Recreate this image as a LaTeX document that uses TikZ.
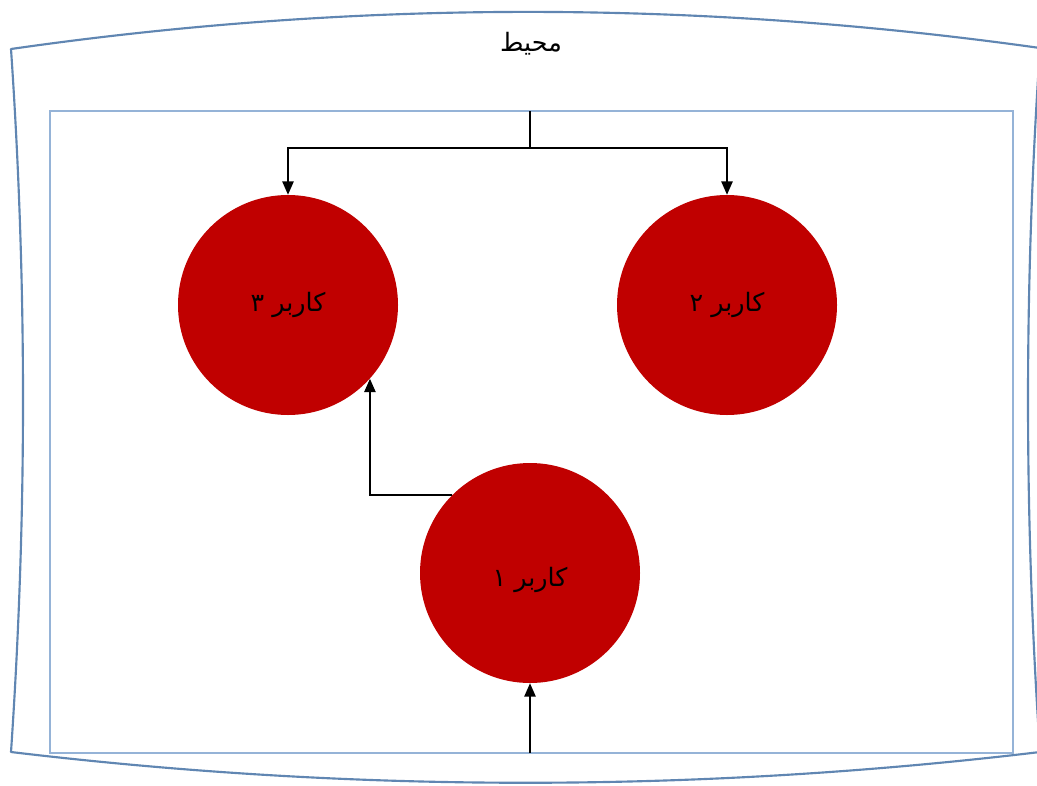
\documentclass[tikz,border=0pt]{standalone}
\usepackage{fontspec}
\newfontfamily\arabicfont[Script=Arabic]{DejaVu Sans}
\TeXXeTstate=1
\usetikzlibrary{arrows.meta}
\definecolor{framebl}{RGB}{96,134,178}
\definecolor{boxbl}{RGB}{149,179,215}
\definecolor{userred}{RGB}{192,0,0}
\tikzset{
  userdisc/.style={circle, fill=userred, draw=none, minimum size=165pt, inner sep=0pt,
    font=\arabicfont\fontsize{19}{22}\selectfont},
  flow/.style={draw=black, line width=1.1pt, -{Triangle[length=10pt,width=8.5pt]}},
  flowplain/.style={draw=black, line width=1.1pt},
  lbl/.style={font=\arabicfont\fontsize{19}{22}\selectfont, inner sep=0pt}
}
\begin{document}
\begin{tikzpicture}[x=0.75pt, y=-0.75pt]
\useasboundingbox (0,0) rectangle (1037,785);
\fill[white] (0,0) rectangle (1037,785);

% outer environment frame with curved edges
\draw[framebl, line width=1.6pt, line join=round]
  (11,49) .. controls (354,-0.3) and (697,-0.3) .. (1040,48)
  .. controls (1024,283) and (1024,517) .. (1040,752)
  .. controls (697,793) and (354,793) .. (11,752)
  .. controls (27,517) and (27,283) .. (11,49) -- cycle;
\node[lbl] (env) at (531,44) {\beginR محیط\endR};

% inner system boundary
\draw[boxbl, line width=1.6pt] (50,111) rectangle (1013,753);
\coordinate (rtop) at (530,111);
\coordinate (rbot) at (530,753);
\coordinate (split) at (530,148);

% users
\node[userdisc] (c3) at (288,305) {\beginR کاربر ۳\endR};
\node[userdisc] (c2) at (727,305) {\beginR کاربر ۲\endR};
\node[userdisc] (c1) at (530,573) {};
\node[lbl] (c1text) at (530,580) {\beginR کاربر ۱\endR};

% connectors
\draw[flowplain] (rtop) -- (split);
\draw[flow] (split) -| (c3.north);
\draw[flow] (split) -| (c2.north);
\draw[flow] (c1.135) -| (c3.-42.6);
\draw[flow] (rbot) -- (c1.south);
\end{tikzpicture}
\end{document}
